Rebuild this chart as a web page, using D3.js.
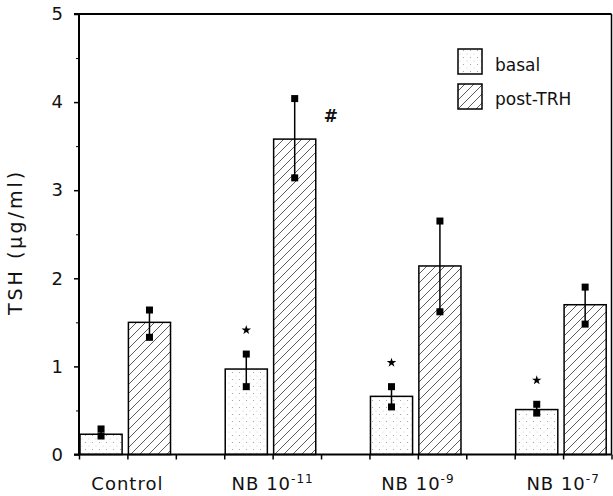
<!DOCTYPE html>
<html>
<head>
<meta charset="utf-8">
<script src="https://cdn.jsdelivr.net/npm/d3@7"></script>
<style>
  body { margin: 0; background: #fff; }
  text { font-family: "DejaVu Sans", sans-serif; fill: #111; }
</style>
</head>
<body>
<svg id="chart" width="613" height="496"></svg>
<script>
// data
var groupNames = ["Control", "NB 10", "NB 10", "NB 10"];
var groupExp = ["", "-11", "-9", "-7"];
var basalMean = [0.23, 0.97, 0.66, 0.51];
var postMean = [1.50, 3.58, 2.14, 1.70];
var basalPts = [[0.29, 0.21], [1.14, 0.77], [0.77, 0.54], [0.57, 0.47]];
var postPts = [[1.64, 1.33], [4.04, 3.14], [2.65, 1.62], [1.90, 1.48]];
var basalStar = [false, true, true, true];
var postHash = [false, true, false, false];
var yTicks = [0, 1, 2, 3, 4, 5];
var legendNames = ["basal", "post-TRH"];

var svg = d3.select("#chart");
// (window.top is read-only, so no "top" here)
var xLeft = 79, xRight = 611.5, yTop = 14, yBot = 454.5;

// 11 slots: basal, post, gap, basal, post, gap ...
var x = d3.scaleLinear().domain([0, 11]).range([xLeft, xRight]);
var y = d3.scaleLinear().domain([0, 5]).range([yBot, yTop]);
var slotW = x(1) - x(0);
var barW = slotW * 0.87;

// patterns
var defs = svg.append("defs");
var dots = defs.append("pattern").attr("id", "dots")
    .attr("patternUnits", "userSpaceOnUse").attr("width", 7).attr("height", 7);
dots.append("circle").attr("cx", 1.5).attr("cy", 1.5).attr("r", 0.6).attr("fill", "#999");
dots.append("circle").attr("cx", 5).attr("cy", 5).attr("r", 0.5).attr("fill", "#bbb");

var hatch = defs.append("pattern").attr("id", "hatch")
    .attr("patternUnits", "userSpaceOnUse").attr("width", 9).attr("height", 9);
hatch.append("path").attr("d", "M0,9L9,0M-2,2L2,-2M7,11L11,7")
    .attr("stroke", "#333").attr("stroke-width", 0.8);

// bars
var bars = [];
basalMean.forEach(function(v, g) {
    bars.push({slot: 3 * g, v: v, pts: basalPts[g], fill: "url(#dots)", star: basalStar[g], hash: false});
    bars.push({slot: 3 * g + 1, v: postMean[g], pts: postPts[g], fill: "url(#hatch)", star: false, hash: postHash[g]});
});

svg.selectAll("rect.bar").data(bars).enter().append("rect")
    .attr("class", "bar")
    .attr("x", function(d) { return x(d.slot) + 1; })
    .attr("y", function(d) { return y(d.v); })
    .attr("width", barW)
    .attr("height", function(d) { return y(0) - y(d.v); })
    .attr("fill", function(d) { return d.fill; })
    .attr("stroke", "#000").attr("stroke-width", 1.5);

// individual values joined by a line
var cx = function(d) { return x(d.slot) + 1 + barW / 2; };
svg.selectAll("line.err").data(bars).enter().append("line")
    .attr("x1", cx).attr("x2", cx)
    .attr("y1", function(d) { return y(d3.max(d.pts)); })
    .attr("y2", function(d) { return y(d3.min(d.pts)); })
    .attr("stroke", "#000").attr("stroke-width", 1.5);

bars.forEach(function(b) {
    b.pts.forEach(function(p) {
        svg.append("rect")
            .attr("x", cx(b) - 3.5).attr("y", y(p) - 3.5)
            .attr("width", 7).attr("height", 7).attr("fill", "#000");
    });
    if (b.star) {
        svg.append("path")
            .attr("d", d3.symbol(d3.symbolStar, 28)())
            .attr("transform", "translate(" + cx(b) + "," + (y(d3.max(b.pts)) - 24) + ")")
            .attr("fill", "#000");
    }
    if (b.hash) {
        svg.append("text")
            .attr("x", x(b.slot) + barW + 16).attr("y", y(d3.max(b.pts)) + 23)
            .attr("text-anchor", "middle")
            .style("font-size", "17px").style("font-weight", "bold")
            .text("#");
    }
});

// axes
var yAxis = svg.append("g").attr("transform", "translate(" + xLeft + ",0)")
    .call(d3.axisLeft(y).tickValues(yTicks).tickFormat(d3.format("d")).tickSize(5).tickPadding(11));
svg.append("g").attr("transform", "translate(" + xLeft + ",0)")
    .call(d3.axisLeft(y).tickValues([0.5, 1.5, 2.5, 3.5, 4.5]).tickFormat("").tickSize(3))
    .select(".domain").remove();
yAxis.select(".domain").attr("d", "M0," + yTop + "V" + yBot).attr("stroke-width", 2);
yAxis.selectAll("text").style("font-size", "18px").style("font-family", "DejaVu Sans");
yAxis.selectAll("line").attr("stroke-width", 1.5);

var xAxis = svg.append("g").attr("transform", "translate(0," + yBot + ")")
    .call(d3.axisBottom(x).tickValues(d3.range(12)).tickFormat("").tickSize(5));
xAxis.select(".domain").attr("d", "M" + (xLeft - 5) + ",0H" + xRight).attr("stroke-width", 2);
xAxis.selectAll("line").attr("stroke-width", 1.5);

// frame top and right
svg.append("line").attr("x1", xLeft - 5).attr("x2", xRight).attr("y1", yTop).attr("y2", yTop)
    .attr("stroke", "#000").attr("stroke-width", 2);
svg.append("line").attr("x1", xRight).attr("x2", xRight).attr("y1", yTop).attr("y2", yBot)
    .attr("stroke", "#000").attr("stroke-width", 1.5);

// group labels
groupNames.forEach(function(n, g) {
    var t = svg.append("text")
        .attr("x", x(3 * g + 1)).attr("y", 490)
        .attr("text-anchor", "middle")
        .style("font-size", "18px").style("letter-spacing", "1px")
        .text(n);
    if (groupExp[g]) {
        t.append("tspan").attr("dy", -7).style("font-size", "12px").text(groupExp[g]);
    }
});

// y label
svg.append("text")
    .attr("transform", "translate(22,242) rotate(-90)")
    .attr("text-anchor", "middle")
    .style("font-size", "19px").style("letter-spacing", "3px")
    .text("TSH (\u00b5g/ml)");

// legend
var legendFills = ["url(#dots)", "url(#hatch)"];
legendNames.forEach(function(n, i) {
    svg.append("rect").attr("x", 458).attr("y", 49 + i * 35)
        .attr("width", 24).attr("height", 25)
        .attr("fill", legendFills[i]).attr("stroke", "#000").attr("stroke-width", 1.5);
    svg.append("text").attr("x", 495).attr("y", 71 + i * 34)
        .style("font-size", "17px").text(n);
});
</script>
</body>
</html>
